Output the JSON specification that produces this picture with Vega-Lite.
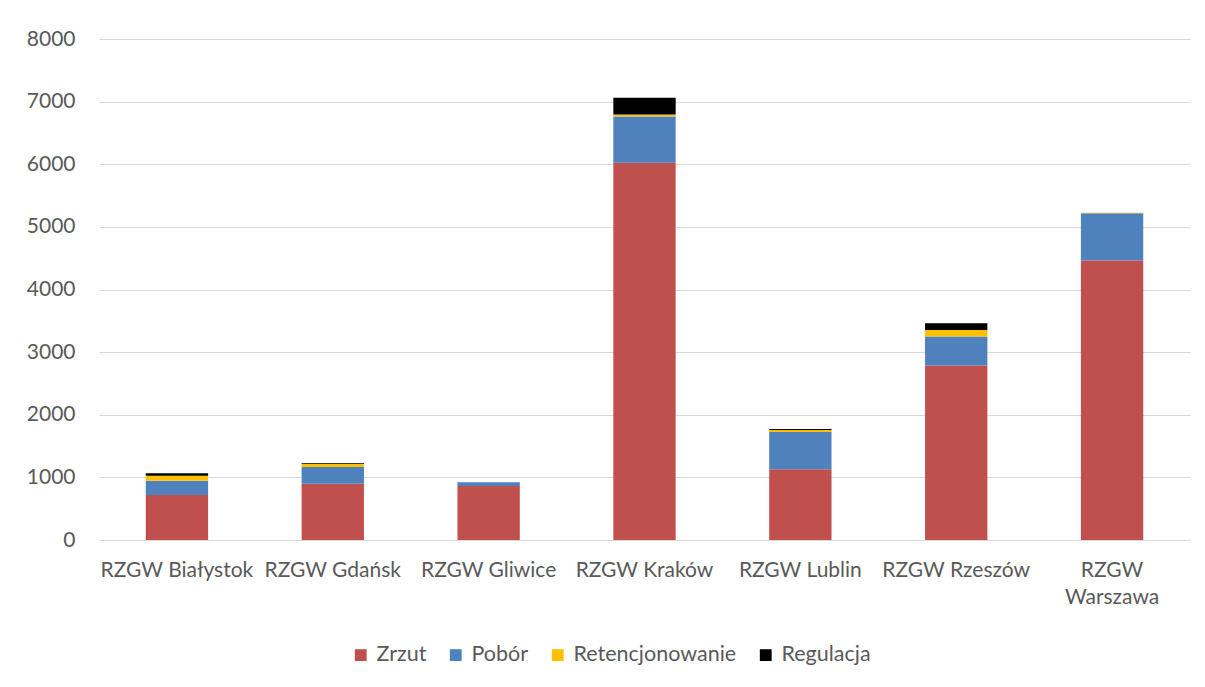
{
  "$schema": "https://vega.github.io/schema/vega-lite/v6.json",
  "width": 1091,
  "height": 501,
  "autosize": {"type": "none"},
  "padding": {"left": 99, "top": 39, "right": 15, "bottom": 147},
  "background": "white",
  "config": {
    "view": {"stroke": null},
    "font": "Lato",
    "axis": {"labelFont": "Lato", "labelColor": "#595959", "labelFontSize": 21}
  },
  "data": {
    "values": [
      {"region": "RZGW Białystok", "type": "Zrzut", "ord": 1, "value": 719},
      {"region": "RZGW Białystok", "type": "Pobór", "ord": 2, "value": 228},
      {"region": "RZGW Białystok", "type": "Retencjonowanie", "ord": 3, "value": 80},
      {"region": "RZGW Białystok", "type": "Regulacja", "ord": 4, "value": 38},
      {"region": "RZGW Gdańsk", "type": "Zrzut", "ord": 1, "value": 900},
      {"region": "RZGW Gdańsk", "type": "Pobór", "ord": 2, "value": 266},
      {"region": "RZGW Gdańsk", "type": "Retencjonowanie", "ord": 3, "value": 53},
      {"region": "RZGW Gdańsk", "type": "Regulacja", "ord": 4, "value": 11},
      {"region": "RZGW Gliwice", "type": "Zrzut", "ord": 1, "value": 862},
      {"region": "RZGW Gliwice", "type": "Pobór", "ord": 2, "value": 62},
      {"region": "RZGW Gliwice", "type": "Retencjonowanie", "ord": 3, "value": 0},
      {"region": "RZGW Gliwice", "type": "Regulacja", "ord": 4, "value": 0},
      {"region": "RZGW Kraków", "type": "Zrzut", "ord": 1, "value": 6022},
      {"region": "RZGW Kraków", "type": "Pobór", "ord": 2, "value": 740},
      {"region": "RZGW Kraków", "type": "Retencjonowanie", "ord": 3, "value": 32},
      {"region": "RZGW Kraków", "type": "Regulacja", "ord": 4, "value": 266},
      {"region": "RZGW Lublin", "type": "Zrzut", "ord": 1, "value": 1129},
      {"region": "RZGW Lublin", "type": "Pobór", "ord": 2, "value": 596},
      {"region": "RZGW Lublin", "type": "Retencjonowanie", "ord": 3, "value": 32},
      {"region": "RZGW Lublin", "type": "Regulacja", "ord": 4, "value": 16},
      {"region": "RZGW Rzeszów", "type": "Zrzut", "ord": 1, "value": 2785},
      {"region": "RZGW Rzeszów", "type": "Pobór", "ord": 2, "value": 463},
      {"region": "RZGW Rzeszów", "type": "Retencjonowanie", "ord": 3, "value": 107},
      {"region": "RZGW Rzeszów", "type": "Regulacja", "ord": 4, "value": 106},
      {"region": "RZGW Warszawa", "type": "Zrzut", "ord": 1, "value": 4462},
      {"region": "RZGW Warszawa", "type": "Pobór", "ord": 2, "value": 757},
      {"region": "RZGW Warszawa", "type": "Retencjonowanie", "ord": 3, "value": 5},
      {"region": "RZGW Warszawa", "type": "Regulacja", "ord": 4, "value": 0}
    ]
  },
  "mark": {"type": "bar"},
  "encoding": {
    "x": {
      "field": "region",
      "type": "nominal",
      "sort": null,
      "scale": {"paddingInner": 0.6, "paddingOuter": 0.3},
      "axis": {
        "title": null,
        "labelAngle": 0,
        "ticks": false,
        "domain": true,
        "domainColor": "#D9D9D9",
        "domainWidth": 1,
        "labelPadding": 19,
        "labelLimit": 200,
        "labelLineHeight": 27,
        "labelExpr": "datum.label == 'RZGW Warszawa' ? ['RZGW', 'Warszawa'] : datum.label"
      }
    },
    "y": {
      "field": "value",
      "type": "quantitative",
      "stack": "zero",
      "scale": {"domain": [0, 8000], "nice": false},
      "axis": {
        "title": null,
        "values": [0, 1000, 2000, 3000, 4000, 5000, 6000, 7000, 8000],
        "ticks": false,
        "domain": false,
        "grid": true,
        "gridColor": "#D9D9D9",
        "gridWidth": 1,
        "labelPadding": 24,
        "format": "d"
      }
    },
    "color": {
      "field": "type",
      "type": "nominal",
      "sort": ["Zrzut", "Pobór", "Retencjonowanie", "Regulacja"],
      "scale": {
        "domain": ["Zrzut", "Pobór", "Retencjonowanie", "Regulacja"],
        "range": ["#C0504D", "#4F81BD", "#FFC000", "#000000"]
      },
      "legend": {
        "title": null,
        "orient": "none",
        "direction": "horizontal",
        "legendX": 251,
        "legendY": 605,
        "symbolType": "square",
        "symbolSize": 140,
        "symbolStrokeWidth": 0,
        "labelFontSize": 21.5,
        "labelFont": "Lato",
        "labelColor": "#595959",
        "labelOffset": 5,
        "labelLimit": 400,
        "columnPadding": 18
      }
    },
    "order": {"field": "ord", "type": "quantitative"}
  }
}
